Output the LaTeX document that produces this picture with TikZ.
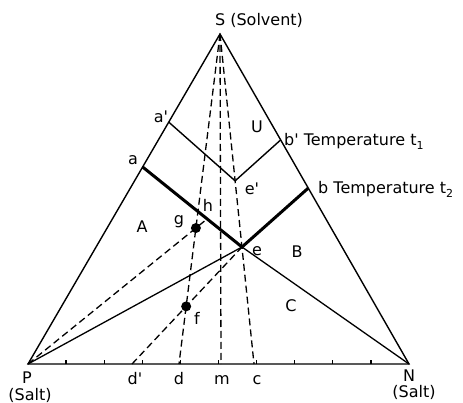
\documentclass[tikz,border=0pt]{standalone}
\usepackage{fontspec}
\setmainfont{DejaVu Sans}
\usetikzlibrary{calc}
\newcommand{\pr}{\textquotesingle}
\begin{document}
\begin{tikzpicture}[x=1pt,y=-1pt,
  side/.style={line width=1.4pt},
  iso/.style={line width=1.4pt},
  thickiso/.style={line width=3pt},
  tieline/.style={line width=1.3pt},
  dashln/.style={line width=1.3pt, dash pattern=on 7pt off 4pt},
  lab/.style={font=\fontsize{16}{18}\selectfont, inner sep=0pt},
  dotpt/.style={circle, fill=black, inner sep=0pt, minimum size=10pt}]
\useasboundingbox (0,0) rectangle (463,403);
% corner points
\coordinate (S) at (220,34);
\coordinate (P) at (28,364);
\coordinate (N) at (409,364);
\coordinate (ap) at ($(S)!0.267!(P)$);
\coordinate (a) at ($(S)!0.403!(P)$);
\coordinate (bp) at ($(S)!0.321!(N)$);
\coordinate (b) at ($(S)!0.467!(N)$);
\coordinate (c) at (254,364);
\coordinate (ep) at ($(S)!0.445!(c)$);
\coordinate (e) at (242,247);
\coordinate (d) at (179,364);
\coordinate (dp) at (132,364);
\coordinate (m) at (221,364);
\coordinate (g) at ($(S)!0.588!(d)$);
\coordinate (f) at (intersection of S--d and dp--e);
\coordinate (hq) at (intersection of P--g and a--e);
% triangle
\draw[side] (S) -- (P) -- (N) -- cycle;
\foreach \k in {1,...,9} \draw[side] ($(P)!\k/10!(N)$) -- ++(0,-4);
% isotherms
\draw[iso] (ap) -- (ep) -- (bp);
\draw[thickiso] (a) -- (e) -- (b);
\draw[tieline] (P) -- (e) -- (N);
% dashed lines
\draw[dashln] (S) -- (d);
\draw[dashln] (S) -- (m);
\draw[dashln] (S) -- (c);
\draw[dashln] (P) -- (hq);
\draw[dashln] (dp) -- (e);
% dots
\node[dotpt] (gdot) at (g) {};
\node[dotpt] (fdot) at (f) {};
% labels
\node[lab] (lS) at (259,20) {S (Solvent)};
\node[lab] (lap) at (161,117) {a\pr};
\node[lab] (la) at (133,160) {a};
\node[lab] (lU) at (257,127) {U};
\node[lab,anchor=west] (lbp) at (284,141) {b\pr\ Temperature t\raisebox{-4pt}{\fontsize{11}{11}\selectfont 1}};
\node[lab,anchor=west] (lb) at (318,189) {b Temperature t\raisebox{-4pt}{\fontsize{11}{11}\selectfont 2}};
\node[lab] (lep) at (252,189) {e\pr};
\node[lab] (lh) at (208,205) {h};
\node[lab] (lg) at (179,222) {g};
\node[lab] (lA) at (142,227) {A};
\node[lab] (le) at (257,251) {e};
\node[lab] (lB) at (297,252) {B};
\node[lab] (lC) at (291,306) {C};
\node[lab] (lf) at (197,318) {f};
\node[lab] (ldp) at (135,379) {d\pr};
\node[lab] (ld) at (179,379) {d};
\node[lab] (lm) at (222,380) {m};
\node[lab] (lc) at (257,380) {c};
\node[lab] (lP) at (27,378) {P};
\node[lab] (lPs) at (30,395) {(Salt)};
\node[lab] (lN) at (409,376) {N};
\node[lab] (lNs) at (414,392) {(Salt)};
\end{tikzpicture}
\end{document}
